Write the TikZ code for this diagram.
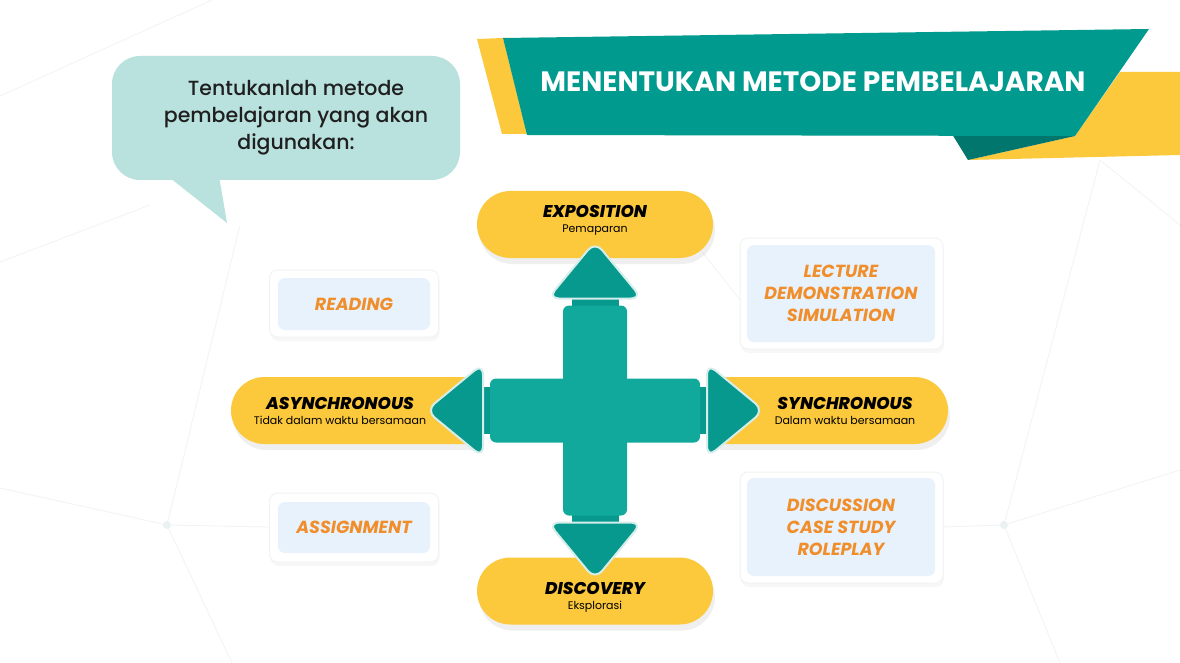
\documentclass[tikz,border=0pt]{standalone}
\usepackage{fontspec}
\setmainfont{Poppins}
\newfontfamily\popmed{Poppins Medium}
\newfontfamily\popheavy{Poppins ExtraBold Italic}
\usetikzlibrary{shapes.misc,shadows}
\definecolor{bannerteal}{HTML}{009A8F}
\definecolor{foldteal}{HTML}{00766D}
\definecolor{sunyellow}{HTML}{FCC93C}
\definecolor{bubblemint}{HTML}{B9E1DE}
\definecolor{barteal}{HTML}{12A99D}
\definecolor{headteal}{HTML}{07998D}
\definecolor{glow}{HTML}{D6EEEB}
\definecolor{boxblue}{HTML}{E8F2FC}
\definecolor{methodorange}{HTML}{F08E2C}
\definecolor{meshgray}{HTML}{F1F3F4}
\tikzstyle{pill}=[rounded rectangle, fill=sunyellow, draw=none, inner sep=0pt, minimum height=67,
  drop shadow={shadow xshift=2pt, shadow yshift=-6pt, opacity=0.12}]
\tikzstyle{pilltext}=[align=center, text=black, font=\fontsize{11}{15}\selectfont]
\tikzstyle{cardframe}=[rectangle, rounded corners=8pt, fill=white, draw=meshgray, line width=1pt, inner sep=0pt,
  drop shadow={shadow xshift=1pt, shadow yshift=-4pt, opacity=0.06}]
\tikzstyle{card}=[rectangle, rounded corners=7pt, fill=boxblue, inner sep=0pt, align=center,
  text=methodorange, font=\bfseries\itshape\fontsize{17.5}{22}\selectfont]
\tikzstyle{mesh}=[draw=meshgray, line width=0.8pt]
\tikzstyle{head}=[fill=headteal, draw=glow, line width=2pt, rounded corners=11pt]
\newcommand{\pilltitle}[1]{{\popheavy\fontsize{17}{15}\selectfont #1}}
\begin{document}
\begin{tikzpicture}[x=1pt,y=-1pt]
  \useasboundingbox (0,0) rectangle (1180,663);
  \fill[white] (0,0) rectangle (1180,663);
  \draw[mesh] (0,96) -- (212,0);
  \draw[mesh] (0,262) -- (150,205);
  \draw[mesh] (0,488) -- (167,525) -- (270,527);
  \draw[mesh] (167,525) -- (232,663);
  \draw[mesh] (167,525) -- (240,225);
  \draw[mesh] (703,253) -- (744,305);
  \draw[mesh] (942,527) -- (1004,525) -- (1180,470);
  \draw[mesh] (1004,525) -- (1060,663);
  \draw[mesh] (1004,525) -- (1100,160);
  \draw[mesh] (1100,160) -- (1180,225);
  \fill[meshgray!70!glow] (167,525) circle (4);
  \fill[meshgray!70!glow] (1004,525) circle (4);

  \fill[sunyellow] (477,39) -- (503,38) -- (527,134) -- (502,134) -- cycle;
  \fill[sunyellow] (968,160) -- (1075,136) -- (1120,72) -- (1180,72) -- (1180,155) -- cycle;
  \fill[foldteal] (952,134) -- (1075,136) -- (968,160) -- cycle;
  \fill[bannerteal] (503,38) -- (1149,29) -- (1075,136) -- (527,135) -- cycle;
  \node[text=white, font=\bfseries\fontsize{28}{32}\selectfont] (title) at (813,82) {MENENTUKAN METODE PEMBELAJARAN};

  \fill[bubblemint, rounded corners=28pt] (112,56) rectangle (460,180);
  \fill[bubblemint] (160,170) -- (227,223) -- (218,170) -- cycle;
  \node[align=center, text=black!88, font=\popmed\fontsize{20.5}{27}\selectfont] (ask) at (296,118)
    {Tentukanlah metode\\pembelajaran yang akan\\digunakan:};

  \node[cardframe, minimum width=169, minimum height=67] (readframe) at (354,303.5) {};
  \node[card, minimum width=152, minimum height=52] (reading) at (354,304) {READING};
  \node[cardframe, minimum width=169, minimum height=69] (assignframe) at (354,527.5) {};
  \node[card, minimum width=152, minimum height=51] (assignment) at (354,527.5) {ASSIGNMENT};
  \node[cardframe, minimum width=203, minimum height=111] (lectureframe) at (841.5,293.5) {};
  \node[card, minimum width=188, minimum height=97] (lecture) at (841,293.5) {LECTURE\\DEMONSTRATION\\SIMULATION};
  \node[cardframe, minimum width=203, minimum height=111] (discussframe) at (841.5,527.5) {};
  \node[card, minimum width=188, minimum height=98] (discussion) at (841,527) {DISCUSSION\\CASE STUDY\\ROLEPLAY};

  \node[pill, minimum width=236] (expo) at (595,224.5) {};
  \node[pill, minimum width=236] (disco) at (595,591) {};
  \node[pill, rounded rectangle right arc=none, minimum width=240] (async) at (351,410.5) {};
  \node[pill, rounded rectangle left arc=none, minimum width=230] (sync) at (833,410.5) {};
  \node[pilltext] (expotext) at (595,220) {\pilltitle{EXPOSITION}\\Pemaparan};
  \node[pilltext] (discotext) at (595,597) {\pilltitle{DISCOVERY}\\Eksplorasi};
  \node[pilltext] (asynctext) at (340,411) {\pilltitle{ASYNCHRONOUS}\\Tidak dalam waktu bersamaan};
  \node[pilltext] (synctext) at (845,411) {\pilltitle{SYNCHRONOUS}\\Dalam waktu bersamaan};

  \begin{scope}[shift={(595,410.5)}]
    \foreach \ang in {0,90,180,270}{
      \begin{scope}[rotate=\ang]
        \fill[headteal] (100,-23.5) rectangle (121,23.5);
        \path[head] (112,-47) -- (169,0) -- (112,47) -- cycle;
      \end{scope}}
    \fill[barteal, rounded corners=6pt] (-105,-32) rectangle (105,32);
    \fill[barteal, rounded corners=6pt] (-32,-105) rectangle (32,105);
  \end{scope}
\end{tikzpicture}
\end{document}
